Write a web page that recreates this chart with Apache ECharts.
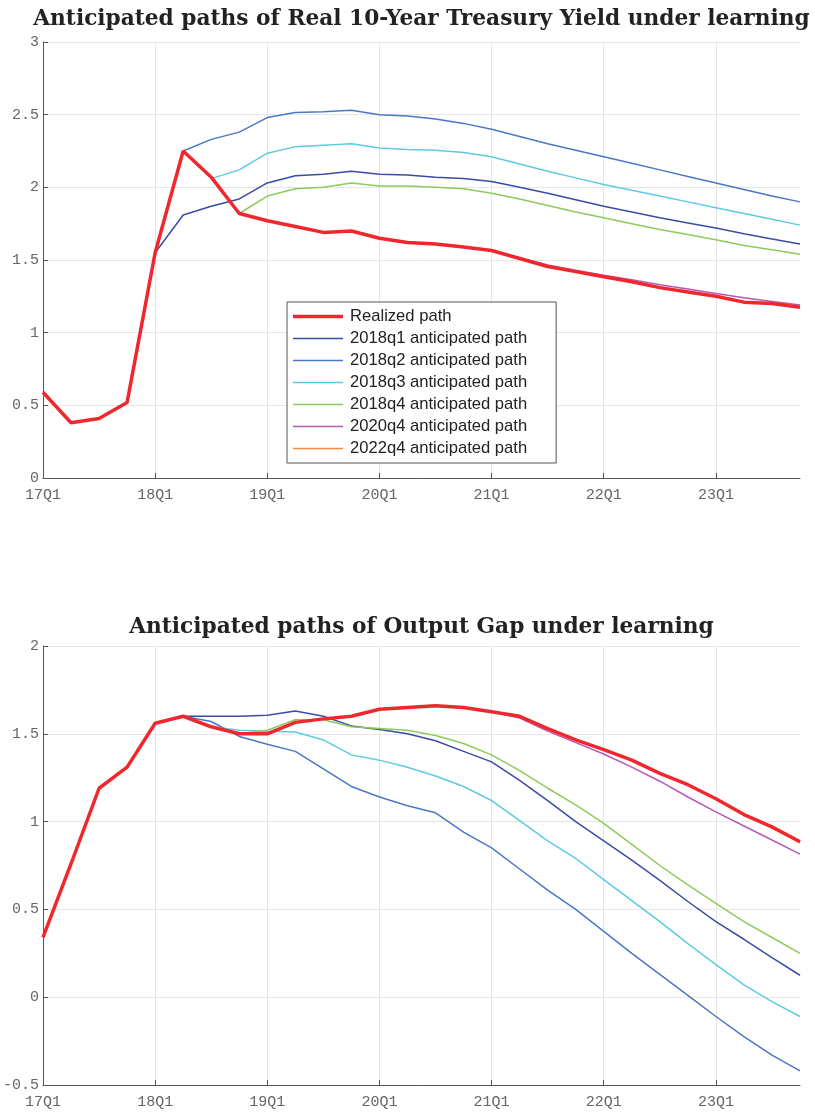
<!DOCTYPE html>
<html><head><meta charset="utf-8">
<script src="https://cdn.jsdelivr.net/npm/echarts@6/dist/echarts.min.js"></script>
<style>html,body{margin:0;padding:0;background:#fff}#c{width:815px;height:1115px}</style>
</head><body><div id="c"></div>
<script>
const quarters = ['17Q1','17Q2','17Q3','17Q4','18Q1','18Q2','18Q3','18Q4','19Q1','19Q2','19Q3','19Q4',
  '20Q1','20Q2','20Q3','20Q4','21Q1','21Q2','21Q3','21Q4','22Q1','22Q2','22Q3','22Q4','23Q1','23Q2','23Q3','23Q4'];
const seriesNames = ['Realized path','2018q1 anticipated path','2018q2 anticipated path','2018q3 anticipated path',
  '2018q4 anticipated path','2020q4 anticipated path','2022q4 anticipated path'];
const seriesColors = ['#F0282D','#3B4CA5','#4878C6','#5DCBE2','#8CCB5C','#B957B6','#F58A3A'];
const titles = ['Anticipated paths of Real 10-Year Treasury Yield under learning','Anticipated paths of Output Gap under learning'];
const yTicksTop = [0, 3, 0.5];
const yTicksBottom = [-0.5, 2, 0.5];
const _ = null;

// Real 10-year Treasury yield
const yieldRealized = [0.59,0.38,0.41,0.52,1.55,2.25,2.07,1.82,1.77,1.73,1.69,1.70,1.65,1.62,1.61,1.59,1.565,1.51,1.455,1.42,1.385,1.35,1.31,1.28,1.25,1.21,1.20,1.175];
const yield2018q1 = [_,_,_,_,1.55,1.81,1.87,1.92,2.03,2.08,2.09,2.11,2.09,2.085,2.07,2.06,2.04,2.00,1.96,1.915,1.87,1.83,1.79,1.755,1.72,1.68,1.645,1.61];
const yield2018q2 = [_,_,_,_,_,2.25,2.33,2.38,2.48,2.515,2.52,2.53,2.50,2.49,2.47,2.44,2.40,2.35,2.30,2.255,2.21,2.165,2.12,2.075,2.03,1.985,1.94,1.90];
const yield2018q3 = [_,_,_,_,_,_,2.06,2.12,2.235,2.28,2.29,2.30,2.27,2.26,2.255,2.24,2.21,2.16,2.11,2.065,2.02,1.98,1.94,1.90,1.86,1.82,1.78,1.74];
const yield2018q4 = [_,_,_,_,_,_,_,1.82,1.94,1.99,2.00,2.03,2.01,2.01,2.00,1.99,1.96,1.92,1.875,1.83,1.79,1.75,1.71,1.675,1.64,1.60,1.57,1.54];
const yield2020q4 = [_,_,_,_,_,_,_,_,_,_,_,_,_,_,_,1.59,1.565,1.515,1.465,1.43,1.395,1.365,1.33,1.30,1.27,1.24,1.215,1.19];
const yield2022q4 = [_,_,_,_,_,_,_,_,_,_,_,_,_,_,_,_,_,_,_,_,_,_,_,1.28,1.25,1.21,1.20,1.175];

// Output gap
const gapRealized = [0.34,0.76,1.19,1.31,1.56,1.60,1.54,1.50,1.50,1.565,1.585,1.60,1.64,1.65,1.66,1.65,1.625,1.60,1.53,1.465,1.41,1.35,1.275,1.21,1.13,1.04,0.97,0.885];
const gap2018q1 = [_,_,_,_,1.56,1.60,1.60,1.60,1.605,1.63,1.60,1.545,1.525,1.50,1.46,1.40,1.34,1.235,1.12,1.00,0.89,0.78,0.665,0.545,0.43,0.33,0.225,0.125];
const gap2018q2 = [_,_,_,_,_,1.60,1.57,1.485,1.44,1.40,1.30,1.20,1.14,1.09,1.05,0.94,0.85,0.73,0.61,0.50,0.375,0.25,0.13,0.01,-0.11,-0.225,-0.33,-0.42];
const gap2018q3 = [_,_,_,_,_,_,1.54,1.52,1.515,1.51,1.465,1.38,1.35,1.31,1.26,1.20,1.12,1.005,0.89,0.79,0.67,0.55,0.43,0.305,0.185,0.07,-0.025,-0.11];
const gap2018q4 = [_,_,_,_,_,_,_,1.50,1.52,1.58,1.58,1.54,1.53,1.52,1.49,1.445,1.38,1.29,1.19,1.095,0.99,0.87,0.75,0.64,0.535,0.43,0.34,0.25];
const gap2020q4 = [_,_,_,_,_,_,_,_,_,_,_,_,_,_,_,1.65,1.625,1.59,1.515,1.45,1.385,1.31,1.23,1.14,1.055,0.975,0.895,0.815];
const gap2022q4 = [_,_,_,_,_,_,_,_,_,_,_,_,_,_,_,_,_,_,_,_,_,_,_,1.21,1.13,1.04,0.965,0.88];

const topData = [yieldRealized, yield2018q1, yield2018q2, yield2018q3, yield2018q4, yield2020q4, yield2022q4];
const botData = [gapRealized, gap2018q1, gap2018q2, gap2018q3, gap2018q4, gap2020q4, gap2022q4];

const chart = echarts.init(document.getElementById('c'), null, {renderer: 'canvas'});

const axisCol = '#555';
const gridCol = '#e6e6e6';
const monoFont = '"Liberation Mono", "DejaVu Sans Mono", monospace';

function xAxis(gi) {
  return {
    type: 'category', gridIndex: gi, data: quarters, boundaryGap: false,
    axisLine: {onZero: false, lineStyle: {color: axisCol, width: 1}},
    axisTick: {show: true, inside: true, length: 5, interval: 3, lineStyle: {color: axisCol}},
    axisLabel: {interval: 3, color: '#666', fontFamily: monoFont, fontSize: 15, margin: 10},
    splitLine: {show: true, interval: 3, lineStyle: {color: gridCol, width: 1}}
  };
}
function yAxis(gi, t) {
  return {
    type: 'value', gridIndex: gi, min: t[0], max: t[1], interval: t[2],
    axisLine: {show: true, onZero: false, lineStyle: {color: axisCol, width: 1}},
    axisTick: {show: true, inside: true, length: 5, lineStyle: {color: axisCol}},
    axisLabel: {color: '#666', fontFamily: monoFont, fontSize: 15, margin: 4},
    splitLine: {show: true, lineStyle: {color: gridCol, width: 1}}
  };
}

const series = [];
const drawOrder = [1,2,3,4,5,6,0];
[topData, botData].forEach((set, gi) => {
  drawOrder.forEach(k => {
    series.push({
      name: seriesNames[k], type: 'line', xAxisIndex: gi, yAxisIndex: gi,
      data: set[k], symbol: 'none', showSymbol: false, connectNulls: false,
      color: seriesColors[k],
      itemStyle: {color: seriesColors[k]},
      lineStyle: {color: seriesColors[k], width: k === 0 ? 3.5 : 1.5},
      z: k === 0 ? 5 : 3,
      emphasis: {disabled: true}, silent: true
    });
  });
});

const legendData = seriesNames.map((n, k) => ({
  name: n,
  icon: k === 0 ? 'path://M0,0h50v3.5h-50z' : 'path://M0,0h50v1.6h-50z',
  itemStyle: {color: seriesColors[k], borderWidth: 0}
}));

chart.setOption({
  animation: false,
  backgroundColor: '#fff',
  grid: [
    {left: 43, top: 42, width: 757, height: 436, containLabel: false},
    {left: 43, top: 646, width: 757, height: 439, containLabel: false}
  ],
  xAxis: [xAxis(0), xAxis(1)],
  yAxis: [yAxis(0, yTicksTop), yAxis(1, yTicksBottom)],
  legend: {
    data: legendData, orient: 'vertical', left: 287, top: 302,
    backgroundColor: '#fff', borderColor: '#555', borderWidth: 1, borderRadius: 0,
    padding: [6, 29, 6, 6], itemWidth: 50, itemHeight: 14, itemGap: 5,
    symbolKeepAspect: true,
    textStyle: {fontFamily: '"Liberation Sans", Arial, sans-serif', fontSize: 16.6, color: '#222', padding: [0,0,0,2]},
    selectedMode: false
  },
  graphic: [
    {type: 'text', x: 421.5, y: 19, style: {text: titles[0], textAlign: 'center', textVerticalAlign: 'middle',
      font: 'bold 21.7px "DejaVu Serif", serif', fill: '#222'}},
    {type: 'text', x: 421.5, y: 627, style: {text: titles[1], textAlign: 'center', textVerticalAlign: 'middle',
      font: 'bold 21.7px "DejaVu Serif", serif', fill: '#222'}}
  ],
  series: series
});
</script>
</body></html>
